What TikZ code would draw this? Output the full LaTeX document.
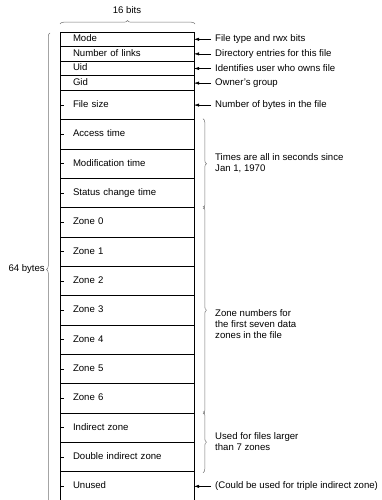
\documentclass[tikz,border=0pt]{standalone}
\usepackage{fontspec}
\setmainfont{Liberation Sans}
\usetikzlibrary{decorations.pathreplacing,arrows.meta}
\begin{document}
\begin{tikzpicture}[x=1pt,y=-1pt,
  every node/.style={font=\fontsize{9.6}{11}\selectfont},
  row/.style={draw=black,line width=0.8pt,anchor=north,minimum width=134pt,text width=108pt,inner xsep=13pt,inner ysep=0pt,outer sep=0pt,align=left,text height=7pt,text depth=2pt},
  srow/.style={row,minimum height=14.6pt},
  lrow/.style={row,minimum height=29.33pt},
  rtext/.style={anchor=west,inner xsep=4pt,inner ysep=0pt,align=left},
  arr/.style={-{Latex[length=5pt,width=3.2pt]},line width=0.5pt},
  brc/.style={decorate,decoration={brace,amplitude=3.5pt},draw=black!55,line width=0.5pt},
  tick/.style={line width=0.6pt}]
\useasboundingbox (0,0) rectangle (382,500);
% rows
\node[srow] (mode) at (127,32) {Mode};
\node[srow] (links) at (mode.south) {Number of links};
\node[srow] (uid) at (links.south) {Uid};
\node[srow] (gid) at (uid.south) {Gid};
\node[lrow] (fsize) at (gid.south) {File size};
\node[lrow] (atime) at (fsize.south) {Access time};
\node[lrow] (mtime) at (atime.south) {Modification time};
\node[lrow] (ctime) at (mtime.south) {Status change time};
\node[lrow] (z0) at (ctime.south) {Zone 0};
\node[lrow] (z1) at (z0.south) {Zone 1};
\node[lrow] (z2) at (z1.south) {Zone 2};
\node[lrow] (z3) at (z2.south) {Zone 3};
\node[lrow] (z4) at (z3.south) {Zone 4};
\node[lrow] (z5) at (z4.south) {Zone 5};
\node[lrow] (z6) at (z5.south) {Zone 6};
\node[lrow] (ind) at (z6.south) {Indirect zone};
\node[lrow] (dind) at (ind.south) {Double indirect zone};
\node[lrow] (unused) at (dind.south) {Unused};
% ticks
\foreach \r in {fsize,atime,mtime,ctime,z0,z1,z2,z3,z4,z5,z6,ind,dind,unused}
  \draw[tick] (\r.west) -- ++(4,0);
% arrow texts
\node[rtext] (tmode) at ([xshift=17pt]mode.east) {File type and rwx bits};
\node[rtext] (tlinks) at ([xshift=17pt]links.east) {Directory entries for this file};
\node[rtext] (tuid) at ([xshift=17pt]uid.east) {Identifies user who owns file};
\node[rtext] (tgid) at ([xshift=17pt]gid.east) {Owner's group};
\node[rtext] (tfsize) at ([xshift=17pt]fsize.east) {Number of bytes in the file};
\node[rtext] (tunused) at ([xshift=17pt]unused.east) {(Could be used for triple indirect zone)};
\foreach \t/\r in {tmode/mode,tlinks/links,tuid/uid,tgid/gid,tfsize/fsize,tunused/unused}
  \draw[arr] (\t.west) -- (\r.east);
% right braces
\draw[brc] ([xshift=9pt,yshift=1pt]atime.north east) -- ([xshift=9pt,yshift=-1pt]ctime.south east);
\draw[brc] ([xshift=9pt,yshift=1.5pt]z0.north east) -- ([xshift=9pt,yshift=-1pt]z6.south east);
\draw[brc] ([xshift=9pt,yshift=1.5pt]ind.north east) -- ([xshift=9pt,yshift=-1pt]dind.south east);
\node[rtext] (ttimes) at (211,163) {Times are all in seconds since\\Jan 1, 1970};
\node[rtext] (tzones) at (211,324) {Zone numbers for\\the first seven data\\zones in the file};
\node[rtext] (tused) at (211,442) {Used for files larger\\than 7 zones};
% top brace
\coordinate (tb1) at (60,24);
\coordinate (tb2) at (195,24);
\draw[brc] (tb1) -- (tb2);
\node (bits) at (127,10) {16 bits};
% left brace
\coordinate (lb1) at (50,506);
\coordinate (lb2) at (50,33);
\draw[brc] (lb1) -- (lb2);
\node[anchor=east,inner sep=0pt] (bytes) at (45,269) {64 bytes};
\end{tikzpicture}
\end{document}
